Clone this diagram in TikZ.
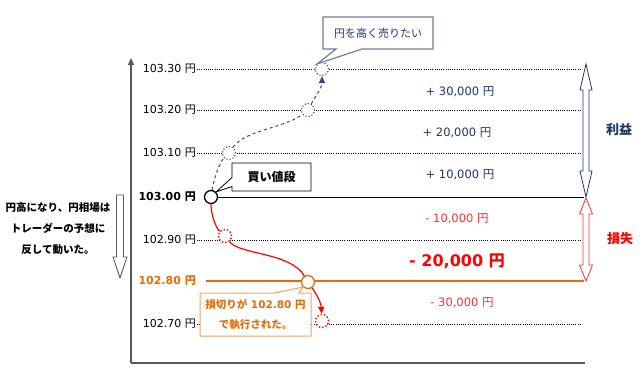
\documentclass[tikz,border=0pt]{standalone}
\usepackage{fontspec}
\setmainfont{DejaVu Sans}
\newfontfamily\jp{Noto Sans CJK JP}
\newcommand{\yenchar}{{\jp 円}}
\usetikzlibrary{shapes.callouts,arrows.meta}

\definecolor{axisgray}{HTML}{595959}
\definecolor{navy}{HTML}{1F3864}
\definecolor{slate}{HTML}{6F7F9F}
\definecolor{dashblue}{HTML}{2F4A7F}
\definecolor{lossred}{HTML}{FF0000}
\definecolor{lightred}{HTML}{FF3030}
\definecolor{cutorange}{HTML}{E46C0A}
\definecolor{lightorange}{HTML}{F4A460}

%% hollow vertical double arrow: x, top, bottom, head length, head half width, style
\newcommand{\hollowdbl}[6]{%
	\draw[#6] (#1,#2) -- ({#1+#5},{#2+#4}) -- ({#1+3},{#2+#4}) -- ({#1+3},{#3-#4})
		-- ({#1+#5},{#3-#4}) -- (#1,#3) -- ({#1-#5},{#3-#4}) -- ({#1-3},{#3-#4})
		-- ({#1-3},{#2+#4}) -- ({#1-#5},{#2+#4}) -- cycle;}

\begin{document}
\begin{tikzpicture}[x=1pt, y=-1pt, font=\fontsize{11}{13}\selectfont,
	price/.style={anchor=east, inner sep=1pt},
	level/.style={dash pattern=on 1pt off 1.2pt, line width=0.9pt},
	pt/.style={circle, minimum size=13pt, inner sep=0pt, fill=white},
	gain/.style={text=navy, font=\fontsize{11.5}{13}\selectfont},
	loss/.style={text=lightred, font=\fontsize{11.5}{13}\selectfont}]

	\useasboundingbox (0,0) rectangle (643,373);

	%% The axes
	\coordinate (origin) at (131,363);
	\coordinate (ytop) at (131,58);
	\coordinate (xend) at (585,363);
	\draw[axisgray, line width=1.4pt, -{Triangle[length=7pt,width=6pt]}] (origin) -- (ytop);
	\draw[axisgray, line width=1.4pt] (origin) -- (xend);

	%% The price labels
	\node[price] at (197, 69) (p1) {103.30 \yenchar};
	\node[price] at (197,110) (p2) {103.20 \yenchar};
	\node[price] at (197,153) (p3) {103.10 \yenchar};
	\node[price, font=\fontsize{11}{13}\selectfont\bfseries] at (197,197) (p4) {103.00 \yenchar};
	\node[price] at (197,240) (p5) {102.90 \yenchar};
	\node[price, text=cutorange, font=\fontsize{11}{13}\selectfont\bfseries] at (197,281) (p6) {102.80 \yenchar};
	\node[price] at (197,324) (p7) {102.70 \yenchar};

	%% The price lines
	\coordinate (e1) at (582, 69);
	\coordinate (e2) at (582,110);
	\coordinate (e3) at (584,197);
	\coordinate (e4) at (582,153);
	\coordinate (e5) at (582,240);
	\coordinate (o-start) at (206,281);
	\coordinate (e6) at (584,281);
	\coordinate (e7) at (580,324);
	\draw[level] (p1.east) -- (e1);
	\draw[level] (p2.east) -- (e2);
	\draw[level] (p3.east) -- (e4);
	\draw[level] (p5.east) -- (e5);
	\draw[level] (p7.east) -- (e7);
	\draw[cutorange, line width=2.4pt] (o-start) -- (e6);

	%% The price points
	\node[pt, draw=black, line width=1.3pt] at (211,197) (b0) {};
	\node[pt, draw=dashblue, dotted, line width=1.1pt] at (229,153) (c1) {};
	\node[pt, draw=dashblue, dotted, line width=1.1pt] at (308,110) (c2) {};
	\node[pt, draw=dashblue, dotted, line width=1.1pt] at (322, 69) (c3) {};
	\node[pt, draw=lossred, dotted, line width=1.4pt] at (225,236) (r1) {};
	\node[pt, draw=cutorange, line width=1.3pt] at (308,282) (o) {};
	\node[pt, draw=lossred, dotted, line width=1.4pt] at (322,321) (r2) {};

	\draw[black, line width=0.9pt] (b0) -- (e3);

	%% The hoped path (up)
	\draw[dashblue, dashed, line width=1pt] (b0) .. controls (214,178) and (220,162) .. (c1);
	\draw[dashblue, dashed, line width=1pt] (c1) .. controls (245,130) and (285,128) .. (c2);
	\draw[dashblue, dashed, line width=1pt, -{Triangle[length=7pt,width=6pt]}] (c2) .. controls (316,95) and (322,88) .. (c3);

	%% The real path (down)
	\draw[lossred, line width=1.2pt] (b0) .. controls (211,215) and (216,228) .. (r1);
	\draw[lossred, line width=1.2pt] (r1) .. controls (240,255) and (290,252) .. (o);
	\draw[lossred, line width=1.2pt, -{Triangle[length=7pt,width=6pt]}] (o) .. controls (315,292) and (321,302) .. (r2);

	%% The callouts
	\node[rectangle callout, draw=slate, fill=white, line width=1.2pt, text=navy,
		minimum width=110pt, minimum height=32pt, callout pointer width=26pt,
		callout absolute pointer={(c3.north west)}] at (378,33) (sell) {{\jp 円を高く売りたい}};
	\node[rectangle callout, draw=black, fill=white, line width=0.8pt,
		minimum width=79pt, minimum height=28pt, callout pointer width=9pt,
		callout absolute pointer={(b0.north east)}] at (271.5,177) (buy)
		{\fontsize{12}{14}\selectfont\jp\bfseries 買い値段};
	\node[rectangle callout, draw=lightorange, fill=white, line width=1pt, text=cutorange,
		align=center, minimum width=111pt, minimum height=43pt, callout pointer width=24pt,
		font=\fontsize{10.5}{20}\selectfont\bfseries,
		callout absolute pointer={(o.south west)}] at (255.5,314.5) (cut)
		{{\jp\bfseries 損切りが} 102.80 \yenchar\\{\jp\bfseries で執行された。}};

	%% The profit and loss amounts
	\node[gain] at (460, 92) (g3) {+ 30,000 \yenchar};
	\node[gain] at (457,133) (g2) {+ 20,000 \yenchar};
	\node[gain] at (460,175) (g1) {+ 10,000 \yenchar};
	\node[loss] at (457,219) (l1) {- 10,000 \yenchar};
	\node[text=lossred, font=\fontsize{16}{18}\selectfont\bfseries] at (457,261) (l2) {- 20,000 {\jp\bfseries 円}};
	\node[loss] at (462,303) (l3) {- 30,000 \yenchar};

	%% The range arrows
	\hollowdbl{586}{64}{197}{26}{6}{draw=navy, fill=white, line width=0.8pt}
	\hollowdbl{586}{198}{281}{16}{6.5}{draw=lightred, fill=white, line width=0.8pt}
	\node[text=navy, font=\fontsize{13}{15}\selectfont\jp\bfseries] at (619,130) (gain) {利益};
	\node[text=lossred, font=\fontsize{13}{15}\selectfont\jp\bfseries] at (620,239) (lossl) {損失};

	%% The reason on the left
	\node[align=center, font=\fontsize{10.5}{21}\selectfont\jp\bfseries] at (58,229) (why)
		{円高になり、円相場は\\トレーダーの予想に\\反して動いた。};
	\draw[axisgray, fill=white, line width=0.8pt] (116.5,195) -- (123.5,195) -- (123.5,257)
		-- (127,257) -- (120,278) -- (113,257) -- (116.5,257) -- cycle;

\end{tikzpicture}
\end{document}
